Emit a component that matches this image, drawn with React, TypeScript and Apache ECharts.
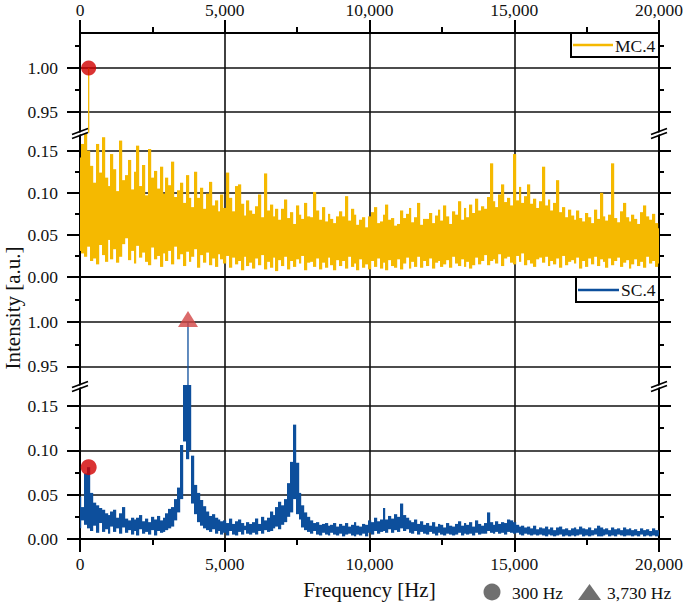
import React, { useEffect, useRef } from "react";
import * as echarts from "echarts";

// ---------- DATA ----------
// Spectra are given per 100 Hz frequency bin (0 .. 20,000 Hz):
// the lowest and highest intensity [a.u.] seen inside each bin.
const BIN_STEP = 100;

// MC.4 – bin maxima
const mcHigh = [
  0.142, 0.158, 0.17, 0.15, 0.132, 0.112, 0.158, 0.124, 0.166, 0.118,
  0.108, 0.146, 0.128, 0.102, 0.162, 0.115, 0.121, 0.139, 0.104, 0.125,
  0.156, 0.108, 0.133, 0.097, 0.152, 0.118, 0.126, 0.105, 0.131, 0.099,
  0.118, 0.109, 0.137, 0.095, 0.103, 0.112, 0.088, 0.121, 0.094, 0.083,
  0.125, 0.094, 0.106, 0.081, 0.099, 0.113, 0.085, 0.091, 0.078, 0.098,
  0.082, 0.124, 0.094, 0.078, 0.108, 0.11, 0.087, 0.073, 0.091, 0.079,
  0.075, 0.084, 0.098, 0.071, 0.123, 0.079, 0.086, 0.072, 0.081, 0.068,
  0.081, 0.092, 0.07, 0.077, 0.063, 0.085, 0.074, 0.069, 0.088, 0.072,
  0.071, 0.101, 0.079, 0.068, 0.083, 0.066, 0.075, 0.069, 0.064, 0.072,
  0.078, 0.072, 0.096, 0.067, 0.081, 0.074, 0.062, 0.068, 0.071, 0.059,
  0.072, 0.077, 0.083, 0.064, 0.066, 0.074, 0.086, 0.068, 0.07, 0.061,
  0.063, 0.079, 0.07, 0.075, 0.082, 0.065, 0.071, 0.088, 0.062, 0.069,
  0.069, 0.076, 0.064, 0.073, 0.08, 0.067, 0.085, 0.072, 0.063, 0.078,
  0.074, 0.09, 0.068, 0.082, 0.071, 0.086, 0.076, 0.093, 0.079, 0.084,
  0.081, 0.095, 0.135, 0.09, 0.083, 0.098, 0.11, 0.089, 0.094, 0.085,
  0.146, 0.091, 0.107, 0.088, 0.096, 0.11, 0.087, 0.093, 0.082, 0.09,
  0.131, 0.085, 0.092, 0.079, 0.088, 0.115, 0.077, 0.083, 0.071, 0.08,
  0.073, 0.068, 0.079, 0.07, 0.066, 0.076, 0.071, 0.064, 0.08, 0.069,
  0.1, 0.072, 0.067, 0.074, 0.135, 0.07, 0.065, 0.078, 0.088, 0.071,
  0.066, 0.074, 0.069, 0.063, 0.077, 0.085, 0.072, 0.068, 0.075, 0.064,
  0.058,
];

// MC.4 – bin minima
const mcLow = [
  0.031, 0.028, 0.024, 0.036, 0.019, 0.022, 0.015, 0.038, 0.026, 0.018,
  0.044, 0.021, 0.033, 0.017, 0.024, 0.039, 0.046, 0.02, 0.031, 0.016,
  0.037, 0.023, 0.029, 0.018, 0.014, 0.035, 0.021, 0.025, 0.012, 0.028,
  0.019, 0.031, 0.015, 0.036, 0.021, 0.027, 0.013, 0.03, 0.018, 0.024,
  0.033, 0.011, 0.026, 0.017, 0.029, 0.014, 0.022, 0.012, 0.027, 0.021,
  0.016, 0.025, 0.011, 0.023, 0.015, 0.019, 0.008, 0.024, 0.013, 0.017,
  0.01, 0.022, 0.014, 0.026, 0.009, 0.018, 0.011, 0.023, 0.007, 0.02,
  0.013, 0.024, 0.009, 0.019, 0.012, 0.021, 0.016, 0.025, 0.008, 0.017,
  0.018, 0.012, 0.022, 0.009, 0.017, 0.011, 0.023, 0.014, 0.008, 0.02,
  0.013, 0.019, 0.01, 0.024, 0.012, 0.016, 0.008, 0.021, 0.011, 0.015,
  0.009, 0.019, 0.012, 0.022, 0.01, 0.017, 0.008, 0.02, 0.013, 0.011,
  0.021, 0.009, 0.016, 0.023, 0.01, 0.018, 0.012, 0.024, 0.011, 0.019,
  0.013, 0.022, 0.01, 0.017, 0.019, 0.012, 0.015, 0.02, 0.011, 0.024,
  0.016, 0.013, 0.021, 0.012, 0.018, 0.01, 0.014, 0.023, 0.015, 0.019,
  0.026, 0.014, 0.019, 0.021, 0.016, 0.027, 0.013, 0.022, 0.024, 0.017,
  0.015, 0.025, 0.018, 0.028, 0.014, 0.02, 0.016, 0.012, 0.021, 0.023,
  0.017, 0.024, 0.013, 0.019, 0.015, 0.022, 0.011, 0.025, 0.014, 0.018,
  0.02, 0.016, 0.023, 0.01, 0.019, 0.012, 0.022, 0.015, 0.024, 0.013,
  0.021, 0.018, 0.011, 0.022, 0.014, 0.019, 0.023, 0.012, 0.017, 0.02,
  0.01, 0.015, 0.021, 0.013, 0.018, 0.011, 0.024, 0.016, 0.019, 0.012,
  0.016,
];

// SC.4 – bin maxima
const scHigh = [
  0.048, 0.036, 0.074, 0.081, 0.052, 0.041, 0.038, 0.035, 0.033, 0.029,
  0.027, 0.031, 0.033, 0.024, 0.029, 0.036, 0.023, 0.021, 0.024, 0.022,
  0.024, 0.027, 0.02, 0.023, 0.019, 0.025, 0.022, 0.026, 0.021, 0.024,
  0.029, 0.034, 0.036, 0.045, 0.058, 0.106, 0.4, 0.55, 0.45, 0.094,
  0.061, 0.052, 0.044, 0.037, 0.031, 0.026, 0.028, 0.024, 0.022, 0.02,
  0.021, 0.018, 0.023, 0.017, 0.02, 0.022, 0.018, 0.015, 0.019, 0.017,
  0.019, 0.023, 0.017, 0.025, 0.021, 0.024, 0.031, 0.027, 0.036, 0.042,
  0.038, 0.045, 0.063, 0.087, 0.129, 0.086, 0.052, 0.038, 0.03, 0.025,
  0.021, 0.018, 0.019, 0.016, 0.017, 0.018, 0.015, 0.016, 0.018, 0.014,
  0.017, 0.015, 0.018, 0.014, 0.016, 0.019, 0.015, 0.014, 0.017, 0.016,
  0.021, 0.019, 0.024, 0.02, 0.022, 0.035, 0.022, 0.026, 0.023, 0.028,
  0.025, 0.04, 0.027, 0.024, 0.021, 0.019, 0.022, 0.017, 0.02, 0.016,
  0.018, 0.015, 0.019, 0.014, 0.017, 0.016, 0.013, 0.018, 0.015, 0.014,
  0.017, 0.02, 0.015, 0.018, 0.016, 0.019, 0.014, 0.021, 0.017, 0.015,
  0.018, 0.03, 0.019, 0.016, 0.02, 0.017, 0.019, 0.018, 0.022, 0.021,
  0.019, 0.016, 0.014, 0.015, 0.013, 0.014, 0.012, 0.015, 0.011, 0.013,
  0.012, 0.014, 0.011, 0.013, 0.01, 0.013, 0.014, 0.011, 0.012, 0.01,
  0.012, 0.013, 0.011, 0.014, 0.012, 0.011, 0.013, 0.01, 0.012, 0.015,
  0.013, 0.011, 0.012, 0.01, 0.013, 0.011, 0.012, 0.01, 0.013, 0.011,
  0.012, 0.01, 0.011, 0.009, 0.012, 0.01, 0.011, 0.009, 0.012, 0.01,
  0.01,
];

// SC.4 – bin minima
const scLow = [
  0.012, 0.021, 0.016, 0.012, 0.009, 0.015, 0.007, 0.018, 0.008, 0.011,
  0.006, 0.014, 0.008, 0.012, 0.006, 0.013, 0.007, 0.01, 0.005, 0.009,
  0.004, 0.011, 0.006, 0.008, 0.005, 0.01, 0.004, 0.009, 0.007, 0.008,
  0.01, 0.012, 0.014, 0.021, 0.03, 0.045, 0.11, 0.09, 0.1, 0.04,
  0.028, 0.019, 0.015, 0.012, 0.01, 0.008, 0.011, 0.006, 0.009, 0.005,
  0.007, 0.004, 0.009, 0.005, 0.004, 0.008, 0.005, 0.01, 0.006, 0.005,
  0.007, 0.005, 0.009, 0.006, 0.01, 0.008, 0.009, 0.012, 0.014, 0.011,
  0.016, 0.019, 0.025, 0.03, 0.045, 0.028, 0.022, 0.013, 0.01, 0.008,
  0.006, 0.009, 0.005, 0.004, 0.007, 0.005, 0.004, 0.007, 0.005, 0.004,
  0.006, 0.003, 0.005, 0.006, 0.004, 0.003, 0.005, 0.004, 0.006, 0.003,
  0.007, 0.005, 0.009, 0.006, 0.008, 0.009, 0.007, 0.011, 0.007, 0.01,
  0.008, 0.012, 0.009, 0.011, 0.007, 0.006, 0.009, 0.005, 0.008, 0.006,
  0.005, 0.008, 0.006, 0.004, 0.007, 0.005, 0.004, 0.006, 0.005, 0.004,
  0.005, 0.007, 0.004, 0.006, 0.005, 0.006, 0.004, 0.007, 0.005, 0.006,
  0.006, 0.009, 0.007, 0.006, 0.008, 0.006, 0.007, 0.005, 0.008, 0.007,
  0.006, 0.007, 0.005, 0.004, 0.006, 0.005, 0.004, 0.005, 0.004, 0.005,
  0.004, 0.003, 0.005, 0.004, 0.003, 0.004, 0.005, 0.003, 0.004, 0.003,
  0.004, 0.003, 0.004, 0.005, 0.003, 0.004, 0.003, 0.004, 0.005, 0.003,
  0.003, 0.004, 0.005, 0.003, 0.004, 0.003, 0.005, 0.004, 0.003, 0.004,
  0.004, 0.003, 0.004, 0.003, 0.005, 0.003, 0.004, 0.003, 0.004, 0.003,
  0.004,
];

// marked peaks
const peakFreqLow = 300; // Hz (circle)
const peakFreqHigh = 3730; // Hz (triangle)
const mcPeakValue = 1.0;
const scLowPeakValue = 0.081;
const scHighPeakValue = 1.0;

// axis ticks
const xTicks = [0, 5000, 10000, 15000, 20000];
const yMajorUpper = [0.95, 1.0];
const yMinorUpper = [0.975, 1.025];
const yMajorLower = [0, 0.05, 0.1, 0.15];
const yMinorLower = [0.025, 0.075, 0.125];

// ---------- STYLE ----------
const FONT = "'Liberation Serif', 'Times New Roman', serif";
const MC_COLOR = "#f5b900";
const SC_COLOR = "#0d4f9c";
const RED = "#d10000";
const TRI_RED = "#d24545";
const GREY = "#707070";

const X0 = 80;
const PW = 579;
const gridBoxes = [
  { top: 33, height: 99, min: 0.9273, max: 1.0398, major: yMajorUpper, minor: yMinorUpper },
  { top: 132, height: 145, min: 0, max: 0.1722, major: yMajorLower, minor: yMinorLower },
  { top: 277, height: 108, min: 0.9292, max: 1.0506, major: yMajorUpper, minor: yMinorUpper },
  { top: 385, height: 154, min: 0, max: 0.1737, major: yMajorLower, minor: yMinorLower },
];

function buildOption() {
  const binFreqs = mcHigh.map((_, i) => i * BIN_STEP);
  const mcBins = binFreqs.map((f, i) => [f, mcLow[i], mcHigh[i]]);
  const scBins = binFreqs.map((f, i) => [f, scLow[i], scHigh[i]]);

  const black = { color: "#000", width: 2 };
  const grid = gridBoxes.map((g) => ({
    left: X0,
    top: g.top,
    width: PW,
    height: g.height,
    containLabel: false,
    outerBoundsMode: "none",
  }));

  const yAxis: any[] = [];
  gridBoxes.forEach((g, gi) => {
    const base = { type: "value", gridIndex: gi, min: g.min, max: g.max };
    yAxis.push({
      ...base,
      position: "left",
      axisLine: { show: true, onZero: false, lineStyle: black },
      axisTick: { show: true, customValues: g.major, length: 13, lineStyle: black },
      axisLabel: {
        show: true,
        customValues: g.major,
        formatter: (v: number) => v.toFixed(2),
        fontFamily: FONT,
        fontSize: 17.5,
        color: "#111",
        margin: 22,
      },
      splitLine: { show: true, lineStyle: { color: "#111", width: 1.6 } },
    });
    yAxis.push({
      ...base,
      position: "left",
      axisLine: { show: false, onZero: false },
      axisTick: { show: true, customValues: g.minor, length: 5, lineStyle: black },
      axisLabel: { show: false },
      splitLine: { show: false },
    });
    yAxis.push({
      ...base,
      position: "right",
      axisLine: { show: true, onZero: false, lineStyle: black },
      axisTick: { show: true, customValues: g.major, length: 12, lineStyle: black },
      axisLabel: { show: false },
      splitLine: { show: false },
    });
    yAxis.push({
      ...base,
      position: "right",
      axisLine: { show: false, onZero: false },
      axisTick: { show: true, customValues: g.minor, length: 5, lineStyle: black },
      axisLabel: { show: false },
      splitLine: { show: false },
    });
  });

  const xBase = {
    type: "value",
    min: xTicks[0],
    max: xTicks[xTicks.length - 1],
    interval: xTicks[1] - xTicks[0],
    axisLine: { show: true, onZero: false, lineStyle: black },
    splitLine: { show: true, lineStyle: { color: "#111", width: 1.6 } },
  };
  const xLabel = (margin: number) => ({
    show: true,
    fontFamily: FONT,
    fontSize: 17.5,
    color: "#111",
    margin,
    formatter: (v: number) => v.toLocaleString("en-US"),
  });
  const xAxis: any[] = [
    {
      ...xBase,
      gridIndex: 0,
      position: "top",
      axisTick: { show: true, length: 13, lineStyle: black },
      minorTick: { show: true, splitNumber: 2, length: 6, lineStyle: black },
      axisLabel: xLabel(14),
    },
    { ...xBase, gridIndex: 1, position: "bottom", axisTick: { show: false }, axisLabel: { show: false } },
    { ...xBase, gridIndex: 2, position: "top", axisTick: { show: false }, axisLabel: { show: false } },
    {
      ...xBase,
      gridIndex: 3,
      position: "bottom",
      axisTick: { show: true, length: 13, lineStyle: black },
      minorTick: { show: true, splitNumber: 2, length: 6, lineStyle: black },
      axisLabel: xLabel(16),
      name: "Frequency [Hz]",
      nameLocation: "middle",
      nameGap: 40,
      nameTextStyle: { fontFamily: FONT, fontSize: 21, color: "#111" },
    },
  ];

  // each bin drawn as a column (one bin wide, snapped to whole pixels)
  // from its minimum to its maximum
  const bandSeries = (data: number[][], gi: number, color: string) => ({
    type: "custom",
    xAxisIndex: gi,
    yAxisIndex: gi * 4,
    data,
    encode: { x: 0, y: [1, 2] },
    silent: true,
    z: 3,
    renderItem: (params: any, api: any) => {
      const f = api.value(0);
      const pLo = api.coord([f, api.value(1)]);
      const pHi = api.coord([f, api.value(2)]);
      const half = api.size([BIN_STEP, 0])[0] / 2;
      const xa = Math.round(pLo[0] - half);
      const xb = Math.round(pLo[0] + half);
      const cs = params.coordSys;
      const rect = echarts.graphic.clipRectByRect(
        { x: xa, y: pHi[1], width: xb - xa + 0.2, height: pLo[1] - pHi[1] },
        { x: cs.x, y: cs.y, width: cs.width, height: cs.height }
      );
      if (!rect) return null;
      return { type: "rect", shape: rect, style: { fill: color } };
    },
  });

  const stem = (freq: number, value: number, gi: number, color: string) => ({
    type: "line",
    xAxisIndex: gi,
    yAxisIndex: gi * 4,
    data: [
      [freq, 0],
      [freq, value],
    ],
    showSymbol: false,
    symbol: "none",
    clip: true,
    silent: true,
    z: 4,
    lineStyle: { color, width: 1.3 },
  });

  const series: any[] = [
    bandSeries(mcBins, 1, MC_COLOR),
    stem(peakFreqLow, mcPeakValue, 0, MC_COLOR),
    bandSeries(scBins, 3, SC_COLOR),
    stem(peakFreqHigh, scHighPeakValue, 2, SC_COLOR),
    {
      type: "scatter",
      xAxisIndex: 0,
      yAxisIndex: 0,
      data: [[peakFreqLow, mcPeakValue]],
      symbol: "circle",
      symbolSize: 15,
      itemStyle: { color: RED },
      z: 10,
      silent: true,
    },
    {
      type: "scatter",
      xAxisIndex: 3,
      yAxisIndex: 12,
      data: [[peakFreqLow, scLowPeakValue]],
      symbol: "circle",
      symbolSize: 16,
      itemStyle: { color: RED },
      z: 10,
      silent: true,
    },
    {
      type: "scatter",
      xAxisIndex: 2,
      yAxisIndex: 8,
      data: [[peakFreqHigh, scHighPeakValue]],
      symbol: "triangle",
      symbolSize: [20, 16],
      symbolOffset: [0, -3],
      itemStyle: { color: TRI_RED },
      z: 10,
      silent: true,
    },
  ];

  // axis-break marks
  const breakMark = (cx: number, cy: number) => [
    {
      type: "polygon",
      z: 100,
      shape: { points: [[cx - 8, cy + 2.5], [cx + 8, cy - 3.5], [cx + 8, cy - 1.5], [cx - 8, cy + 4.5]] },
      style: { fill: "#fff" },
    },
    {
      type: "line",
      z: 101,
      shape: { x1: cx - 8, y1: cy + 1.5, x2: cx + 8, y2: cy - 4.5 },
      style: { stroke: "#000", lineWidth: 1.8 },
    },
    {
      type: "line",
      z: 101,
      shape: { x1: cx - 8, y1: cy + 5.5, x2: cx + 8, y2: cy - 0.5 },
      style: { stroke: "#000", lineWidth: 1.8 },
    },
  ];

  const txt = (text: string, x: number, y: number, size = 17.5) => ({
    type: "text",
    z: 102,
    x,
    y,
    style: { text, fontFamily: FONT, fontSize: size, fill: "#111", align: "left", verticalAlign: "middle" },
  });

  const graphic: any[] = [
    ...breakMark(X0, 133),
    ...breakMark(X0 + PW, 133),
    ...breakMark(X0, 386),
    ...breakMark(X0 + PW, 386),
    // MC.4 legend
    { type: "rect", z: 102, shape: { x: 571, y: 33, width: 88, height: 24 }, style: { fill: "#fff", stroke: "#000", lineWidth: 2 } },
    { type: "line", z: 103, shape: { x1: 573, y1: 45, x2: 613, y2: 45 }, style: { stroke: MC_COLOR, lineWidth: 2.5 } },
    txt("MC.4", 615, 46),
    // SC.4 legend
    { type: "rect", z: 102, shape: { x: 576, y: 277, width: 83, height: 25 }, style: { fill: "#fff", stroke: "#000", lineWidth: 2 } },
    { type: "line", z: 103, shape: { x1: 578, y1: 290, x2: 619, y2: 290 }, style: { stroke: SC_COLOR, lineWidth: 2.5 } },
    txt("SC.4", 621, 290),
    // bottom marker legend
    { type: "circle", z: 102, shape: { cx: 492, cy: 592, r: 8.5 }, style: { fill: GREY } },
    txt(`${peakFreqLow} Hz`, 512, 593),
    {
      type: "polygon",
      z: 102,
      shape: { points: [[578, 600], [601, 600], [589.5, 584]] },
      style: { fill: GREY },
    },
    txt(`${peakFreqHigh.toLocaleString("en-US")} Hz`, 607, 593),
    // y title
    {
      type: "text",
      z: 102,
      x: 13,
      y: 308,
      rotation: Math.PI / 2,
      style: {
        text: "Intensity [a.u.]",
        fontFamily: FONT,
        fontSize: 21,
        fill: "#111",
        align: "center",
        verticalAlign: "middle",
      },
    },
  ];

  return {
    animation: false,
    backgroundColor: "#fff",
    grid,
    xAxis,
    yAxis,
    series,
    graphic,
  };
}

export default function App() {
  const ref = useRef<HTMLDivElement>(null);
  useEffect(() => {
    if (!ref.current) return;
    const chart = echarts.init(ref.current, undefined, { renderer: "svg" });
    chart.setOption(buildOption() as any);
    return () => chart.dispose();
  }, []);
  return (
    <div
      ref={ref}
      style={{ position: "fixed", left: 0, top: 0, width: 685, height: 603, background: "#fff" }}
    />
  );
}
